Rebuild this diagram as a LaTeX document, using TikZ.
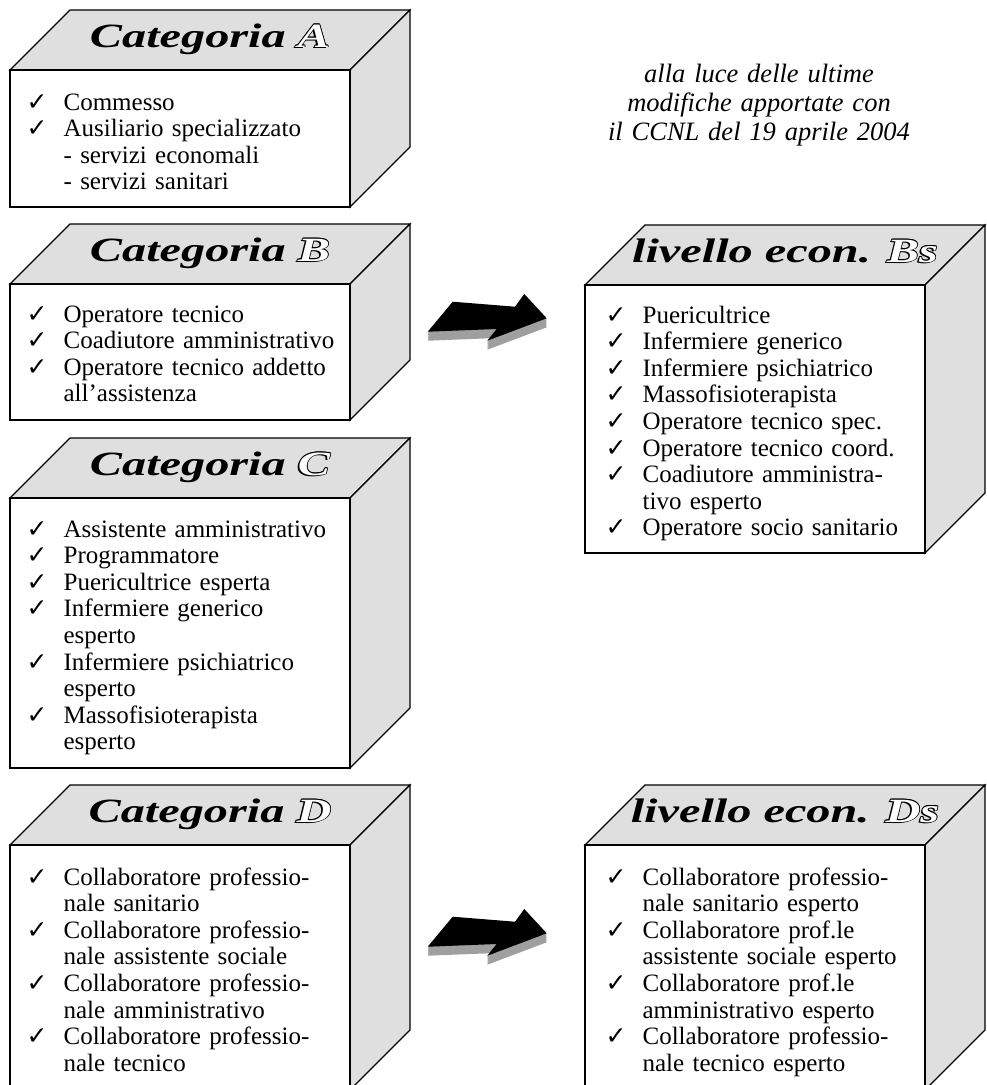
\documentclass[tikz,border=0pt]{standalone}
\usepackage{fontspec}
\setmainfont{Liberation Serif}
\newfontfamily\titlefont[FakeStretch=1.42]{Liberation Serif}
\newfontfamily\checkfont{DejaVu Sans}
\usetikzlibrary{positioning}

\newcommand\chk{\leavevmode\llap{{\checkfont\fontsize{25}{25}\selectfont ✓}\hspace{16pt}}}
\newcommand\olay[3]{\makebox[0pt][l]{\kern#1\raisebox{#2}{#3}}}
\newcommand\hollow[1]{{\olay{-1.6pt}{-1.6pt}{#1}\olay{.8pt}{0pt}{#1}\olay{-.8pt}{0pt}{#1}\olay{0pt}{.8pt}{#1}\olay{0pt}{-.8pt}{#1}\olay{.6pt}{.6pt}{#1}\olay{-.6pt}{.6pt}{#1}\olay{.6pt}{-.6pt}{#1}\olay{-.6pt}{-.6pt}{#1}\textcolor{white}{#1}}}

\begin{document}
\begin{tikzpicture}[x=1pt, y=-1pt, line width=1.2pt,
    topface/.style={fill=gray!25, draw=black},
    sideface/.style={fill=gray!25, draw=black},
    frontface/.style={fill=white, draw=black},
    boxtitle/.style={anchor=base, inner sep=0, font=\titlefont\bfseries\itshape\fontsize{34}{34}\selectfont},
    items/.style={anchor=base west, inner sep=0, text width=300pt, align=left, font=\fontsize{25}{26.6}\selectfont},
    note/.style={anchor=base, inner sep=0, text width=340pt, align=center, font=\itshape\fontsize{26.5}{29}\selectfont}]
    \useasboundingbox (0,0) rectangle (987,1085);
    \clip (0,0) rectangle (987,1085);

    \filldraw[topface] (10,70) -- (70,10) -- (410,10) -- (350,70) -- cycle;
    \filldraw[sideface] (350,70) -- (410,10) -- (410,147) -- (350,207) -- cycle;
    \filldraw[frontface] (10,70) rectangle (350,207);
    \node[boxtitle] (titA) at (210,47) {Categoria \hollow{A}};
    \node[items] (listA) at (63,110) {\chk Commesso\\ \chk Ausiliario specializzato\\ - servizi economali\\ - servizi sanitari};

    \filldraw[topface] (10,284) -- (70,224) -- (410,224) -- (350,284) -- cycle;
    \filldraw[sideface] (350,284) -- (410,224) -- (410,360) -- (350,420) -- cycle;
    \filldraw[frontface] (10,284) rectangle (350,420);
    \node[boxtitle] (titB) at (210,261) {Categoria \hollow{B}};
    \node[items] (listB) at (63,322) {\chk Operatore tecnico\\ \chk Coadiutore amministrativo\\ \chk Operatore tecnico addetto\\ all'assistenza};

    \filldraw[topface] (10,498) -- (70,438) -- (410,438) -- (350,498) -- cycle;
    \filldraw[sideface] (350,498) -- (410,438) -- (410,708) -- (350,768) -- cycle;
    \filldraw[frontface] (10,498) rectangle (350,768);
    \node[boxtitle] (titC) at (210,475) {Categoria \hollow{C}};
    \node[items] (listC) at (63,537) {\chk Assistente amministrativo\\ \chk Programmatore\\ \chk Puericultrice esperta\\ \chk Infermiere generico\\ esperto\\ \chk Infermiere psichiatrico\\ esperto\\ \chk Massofisioterapista\\ esperto};

    \filldraw[topface] (10,845) -- (70,785) -- (410,785) -- (350,845) -- cycle;
    \filldraw[sideface] (350,845) -- (410,785) -- (410,1030) -- (350,1090) -- cycle;
    \filldraw[frontface] (10,845) rectangle (350,1090);
    \node[boxtitle] (titD) at (210,822) {Categoria \hollow{D}};
    \node[items] (listD) at (63,885) {\chk Collaboratore professio-\\ nale sanitario\\ \chk Collaboratore professio-\\ nale assistente sociale\\ \chk Collaboratore professio-\\ nale amministrativo\\ \chk Collaboratore professio-\\ nale tecnico};

    \filldraw[topface] (585,285) -- (645,225) -- (985,225) -- (925,285) -- cycle;
    \filldraw[sideface] (925,285) -- (985,225) -- (985,493) -- (925,553) -- cycle;
    \filldraw[frontface] (585,285) rectangle (925,553);
    \node[boxtitle] (titBs) at (785,262) {livello econ. \hollow{Bs}};
    \node[items] (listBs) at (642,323) {\chk Puericultrice\\ \chk Infermiere generico\\ \chk Infermiere psichiatrico\\ \chk Massofisioterapista\\ \chk Operatore tecnico spec.\\ \chk Operatore tecnico coord.\\ \chk Coadiutore amministra-\\ tivo esperto\\ \chk Operatore socio sanitario};

    \filldraw[topface] (585,845) -- (645,785) -- (985,785) -- (925,845) -- cycle;
    \filldraw[sideface] (925,845) -- (985,785) -- (985,1030) -- (925,1090) -- cycle;
    \filldraw[frontface] (585,845) rectangle (925,1090);
    \node[boxtitle] (titDs) at (785,822) {livello econ. \hollow{Ds}};
    \node[items] (listDs) at (642,885) {\chk Collaboratore professio-\\ nale sanitario esperto\\ \chk Collaboratore prof.le\\ assistente sociale esperto\\ \chk Collaboratore prof.le\\ amministrativo esperto\\ \chk Collaboratore professio-\\ nale tecnico esperto};

    \node[note] (ccnl) at (759,82) {alla luce delle ultime\\ modifiche apportate con\\ il CCNL del 19 aprile 2004};

    \foreach \oy in {0,615} {
    \begin{scope}[shift={(0,\oy)}]
        \foreach \d in {9,...,1}
            \fill[gray!75, yshift=-\d pt] (427.7,331.7) -- (452.7,301.7) -- (515,306.7) -- (524.3,294) -- (546.7,318.3) -- (487.3,340.7) -- (496.7,329) -- cycle;
        \fill[black] (427.7,331.7) -- (452.7,301.7) -- (515,306.7) -- (524.3,294) -- (546.7,318.3) -- (487.3,340.7) -- (496.7,329) -- cycle;
    \end{scope}
    }
\end{tikzpicture}
\end{document}
